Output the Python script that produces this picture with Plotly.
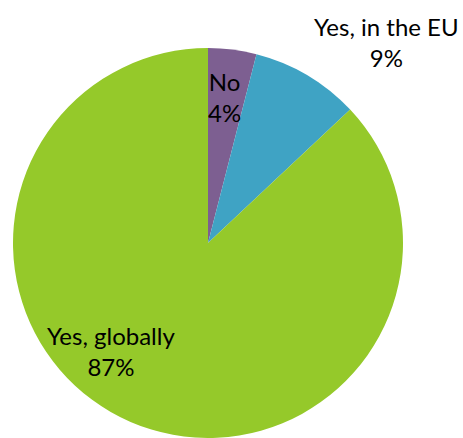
import plotly.graph_objects as go

labels = ["No", "Yes, in the EU", "Yes, globally"]
values = [4, 9, 87]
colors = ["#7D5F91", "#3FA3C4", "#95C92A"]

W, H = 463, 438
# pie geometry in pixels (center, radius)
cx, cy, r = 208, 244, 196

fig = go.Figure(go.Pie(
    labels=labels,
    values=values,
    sort=False,
    direction="clockwise",
    rotation=0,
    marker=dict(colors=colors, line=dict(width=0)),
    textinfo="none",
    hoverinfo="none",
    showlegend=False,
    domain=dict(x=[(cx - r) / W, (cx + r) / W], y=[max(0, 1 - (cy + r) / H), 1 - (cy - r) / H]),
))

total = sum(values)
label_pos = [(224, 97), (386, 42), (111, 351)]  # pixel centers of label boxes
for lab, v, (px, py) in zip(labels, values, label_pos):
    fig.add_annotation(
        text=f"{lab}<br>{round(100 * v / total)}%",
        x=px / W, y=1 - py / H, xref="paper", yref="paper",
        xanchor="center", yanchor="middle", showarrow=False,
        font=dict(family="Lato", size=24, color="#000000"),
    )

fig.update_layout(
    width=W, height=H,
    margin=dict(l=0, r=0, t=0, b=0),
    paper_bgcolor="white", plot_bgcolor="white",
)
fig.write_html(
    "out.html",
    config={"displayModeBar": False},
    post_script="document.body.style.margin='0';document.body.style.overflow='hidden';",
)
